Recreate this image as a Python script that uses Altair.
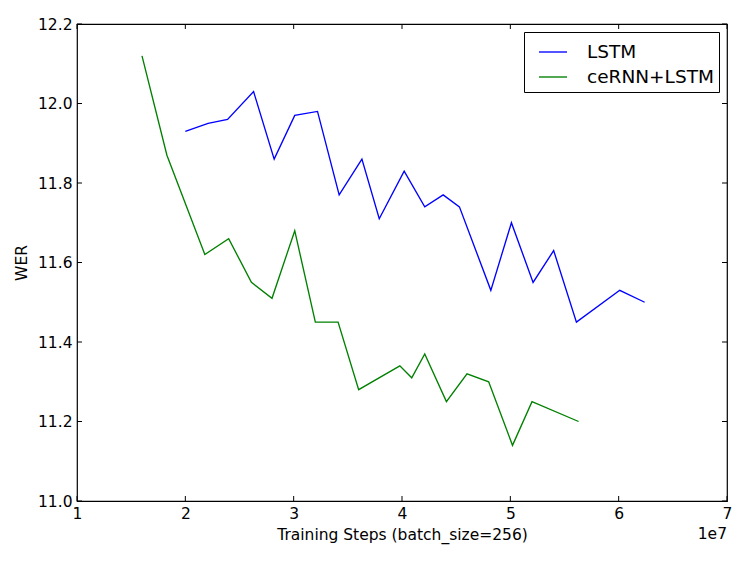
import altair as alt
import pandas as pd

# Training steps (raw values) and WER
lstm_steps = [2.00e7, 2.21e7, 2.39e7, 2.63e7, 2.82e7, 3.01e7, 3.22e7, 3.42e7, 3.63e7,
              3.79e7, 4.02e7, 4.21e7, 4.38e7, 4.53e7, 4.82e7, 5.01e7, 5.21e7, 5.40e7,
              5.61e7, 6.01e7, 6.24e7]
lstm_wer = [11.93, 11.95, 11.96, 12.03, 11.86, 11.97, 11.98, 11.77, 11.86,
            11.71, 11.83, 11.74, 11.77, 11.74, 11.53, 11.70, 11.55, 11.63,
            11.45, 11.53, 11.50]

cernn_steps = [1.60e7, 1.83e7, 2.18e7, 2.40e7, 2.61e7, 2.80e7, 3.01e7, 3.20e7, 3.41e7,
               3.60e7, 3.98e7, 4.09e7, 4.21e7, 4.41e7, 4.60e7, 4.80e7, 5.02e7, 5.20e7,
               5.63e7]
cernn_wer = [12.12, 11.87, 11.62, 11.66, 11.55, 11.51, 11.68, 11.45, 11.45,
             11.28, 11.34, 11.31, 11.37, 11.25, 11.32, 11.30, 11.14, 11.25,
             11.20]

series_names = ["LSTM", "ceRNN+LSTM"]
series_colors = ["#0000ff", "#008000"]

x_tick_values = [1e7, 2e7, 3e7, 4e7, 5e7, 6e7, 7e7]
y_tick_values = [11.0, 11.2, 11.4, 11.6, 11.8, 12.0, 12.2]

W, H = 650, 477
FONT = "DejaVu Sans"
FS = 15.5
TICK = 5

df = pd.concat([
    pd.DataFrame({"steps": lstm_steps, "wer": lstm_wer, "series": series_names[0]}),
    pd.DataFrame({"steps": cernn_steps, "wer": cernn_wer, "series": series_names[1]}),
], ignore_index=True)
xt = pd.DataFrame({"steps": x_tick_values})
yt = pd.DataFrame({"wer": y_tick_values})

x_scale = alt.Scale(domain=[1e7, 7e7], nice=False, zero=False)
y_scale = alt.Scale(domain=[11.0, 12.2], nice=False, zero=False)

common_axis = dict(ticks=False, domain=False, grid=False, labelFont=FONT, titleFont=FONT,
                   labelFontSize=FS, titleFontSize=FS, titleFontWeight="normal",
                   labelColor="black", titleColor="black", labelFlush=False,
                   labelOverlap=False)
x_axis = alt.Axis(values=x_tick_values, labelExpr="format(datum.value / 1e7, 'd')",
                  title="Training Steps (batch_size=256)", labelPadding=5,
                  titlePadding=6, **common_axis)
y_axis = alt.Axis(values=y_tick_values, format=".1f", title="WER", labelPadding=5,
                  titlePadding=8, **common_axis)

X = alt.X("steps:Q", scale=x_scale, axis=x_axis)
Y = alt.Y("wer:Q", scale=y_scale, axis=y_axis)

lines = alt.Chart(df).mark_line(strokeWidth=1.35, clip=True).encode(
    x=X,
    y=Y,
    color=alt.Color(
        "series:N",
        scale=alt.Scale(domain=series_names, range=series_colors),
        sort=series_names,
        legend=alt.Legend(
            title=None, orient="none", legendX=447, legendY=8, direction="vertical",
            symbolType="stroke", symbolSize=784, symbolStrokeWidth=1.35, symbolOffset=9,
            labelFontSize=18.5, labelFont=FONT, labelColor="black", labelOffset=19,
            padding=5, strokeColor="black", fillColor="white", rowPadding=0,
            labelLimit=400, cornerRadius=0,
        ),
    ),
)

rule = dict(color="black", strokeWidth=1)
ticks_bottom = alt.Chart(xt).mark_rule(**rule).encode(x=X, y=alt.value(H), y2=alt.value(H - TICK))
ticks_top = alt.Chart(xt).mark_rule(**rule).encode(x=X, y=alt.value(0), y2=alt.value(TICK))
ticks_left = alt.Chart(yt).mark_rule(**rule).encode(y=Y, x=alt.value(0), x2=alt.value(TICK))
ticks_right = alt.Chart(yt).mark_rule(**rule).encode(y=Y, x=alt.value(W), x2=alt.value(W - TICK))

offset_text = alt.Chart(pd.DataFrame({"t": ["1e7"]})).mark_text(
    align="right", baseline="alphabetic", font=FONT, fontSize=FS, color="black"
).encode(x=alt.value(W), y=alt.value(H + 38), text="t:N")

chart = alt.layer(lines, ticks_bottom, ticks_top, ticks_left, ticks_right, offset_text).properties(
    width=W, height=H,
    padding={"left": 69, "top": 16, "right": 12, "bottom": 52},
    autosize=alt.AutoSizeParams(type="none"),
    background="white",
).configure(font=FONT).configure_view(stroke="black", strokeWidth=1.2)

chart.save("out.html", embed_options={"renderer": "svg", "actions": False})
